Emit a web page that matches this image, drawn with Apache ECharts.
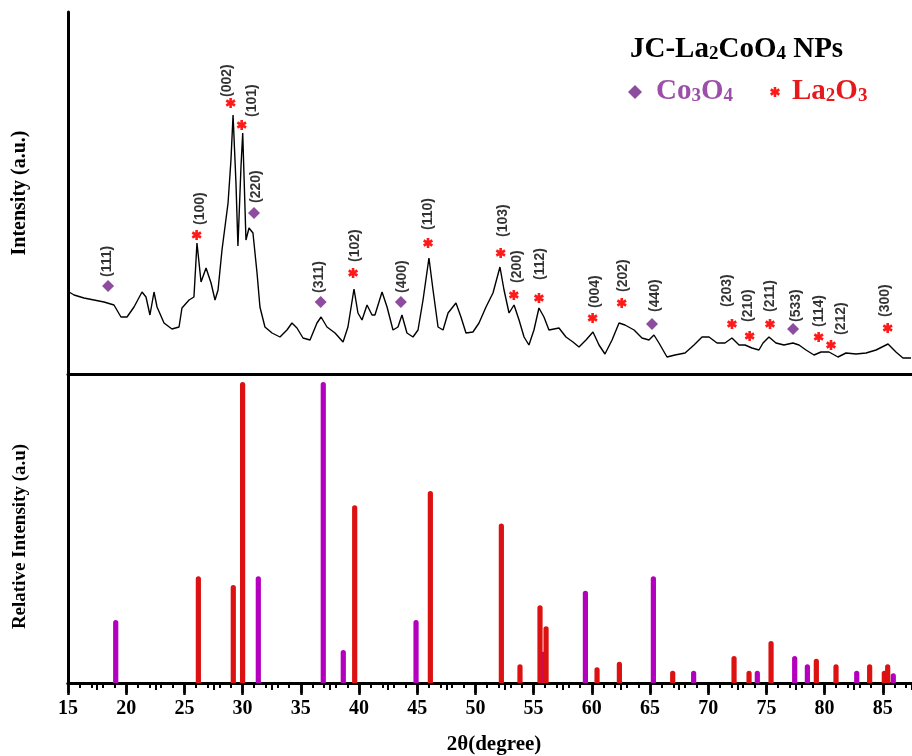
<!DOCTYPE html>
<html>
<head>
<meta charset="utf-8">
<script src="https://cdn.jsdelivr.net/npm/echarts@6/dist/echarts.min.js"></script>
<style>
html,body{margin:0;padding:0;background:#fff;}
#chart{width:912px;height:756px;}
</style>
</head>
<body>
<div id="chart"></div>
<script>
// ---- XRD pattern (top panel) ----
const twoTheta = [15.09,15.52,16.37,17.23,18.09,18.95,19.55,20.07,20.67,21.36,
21.70,22.04,22.39,22.65,23.25,23.93,24.54,24.79,25.40,25.82,
26.08,26.43,26.86,27.29,27.63,27.89,28.23,28.75,29.00,29.18,
29.43,29.60,29.86,30.01,30.29,30.55,30.89,31.24,31.49,31.92,
32.53,33.21,33.81,34.24,34.67,35.19,35.79,36.39,36.74,37.25,
37.94,38.63,39.05,39.57,39.91,40.26,40.69,41.12,41.37,41.98,
42.41,42.92,43.35,43.69,44.12,44.64,45.07,45.50,46.01,46.36,
46.79,47.22,47.65,48.33,48.76,49.19,49.79,50.31,50.91,51.51,
52.11,52.46,52.89,53.32,53.75,54.18,54.60,55.03,55.46,55.89,
56.32,57.18,57.78,58.38,58.90,59.50,60.10,60.62,61.13,61.74,
62.34,62.85,63.63,64.31,64.91,65.34,65.77,66.46,67.15,68.01,
68.78,69.47,70.07,70.76,71.44,72.04,72.65,73.16,73.76,74.36,
74.71,75.22,75.82,76.51,77.28,77.80,78.40,79.09,79.69,80.38,
81.15,81.84,82.70,83.56,84.42,85.45,86.13,86.73,87.42];
const intensity = [82,79,76,74,72,69,57,57,67,82,
77,59,82,67,51,45,47,66,74,77,
131,92,106,91,74,84,124,171,214,259,
191,128,207,241,134,146,141,101,67,47,
41,37,44,51,46,36,34,51,57,47,
41,32,47,85,61,54,69,59,59,82,
67,44,47,59,41,37,44,74,116,84,
47,44,61,71,57,41,42,51,67,81,
107,84,61,69,54,37,29,44,66,57,
44,46,37,32,27,34,42,29,20,34,
51,49,44,36,34,39,31,17,19,21,
29,37,37,31,31,36,29,29,26,24,
31,37,31,29,31,29,24,19,22,22,
17,21,20,21,24,30,22,16,16];

// ---- phase markers in the top panel ----
const laMarkX = [26.05,28.97,29.92,39.49,45.93,52.17,53.30,55.46,60.07,62.57,72.04,73.56,75.31,79.49,80.55,85.42];
const laMarkY = [139,271,249,101,131,121,79,76,56,71,50,38,50,37,29,46];
const coMarkX = [18.44,30.98,36.71,43.60,65.17,77.29];
const coMarkY = [88,161,72,72,50,45];

// ---- (hkl) labels ----
const hklLabels = ['(111)','(100)','(002)','(101)','(220)','(311)','(102)','(400)','(110)','(103)','(200)','(112)','(004)','(202)','(440)','(203)','(210)','(211)','(533)','(114)','(212)','(300)'];
const hklX = [18.35,26.34,28.66,30.78,31.15,36.56,39.66,43.67,45.93,52.37,53.57,55.55,60.27,62.68,65.43,71.62,73.42,75.31,77.54,79.52,81.41,85.19];
const hklY = [97,149,277,257,171,81,112,81,144,137,91,94,66,82,62,67,52,62,52,47,39,57];

// ---- reference sticks (bottom panel) ----
const laStickX = [26.2,29.2,30.0,39.63,46.13,52.23,53.83,55.55,56.07,60.45,62.37,66.95,72.22,73.51,75.4,79.29,80.98,83.87,85.13,85.42];
const laStickH = [35.5,32.6,100,59.1,63.8,53,6.2,25.8,18.9,5.2,7.1,4.1,9.0,4.1,14.0,8.1,6.2,6.2,4.1,6.2];
const coStickX = [19.1,31.35,36.93,38.65,44.9,55.8,59.45,65.29,68.75,74.22,77.43,78.52,82.76,85.9];
const coStickH = [20.9,35.5,100,11,20.9,10.4,30.7,35.5,4.1,4.1,9.0,6.2,4.1,3.2];

const RED = '#ff1a1a';
const PURPLE = '#8e4c9e';
const STICK_RED = '#dc1212';
const STICK_MAG = '#b400be';
const AST = 'M-1.3,-5L1.3,-5L1.3,5L-1.3,5Z M3.68,-3.63L4.98,-1.37L-3.68,3.63L-4.98,1.37Z M4.98,1.37L3.68,3.63L-4.98,-1.37L-3.68,-3.63Z';
const AST_POLYS = [
  [[-1.3,-5],[1.3,-5],[1.3,5],[-1.3,5]],
  [[3.68,-3.63],[4.98,-1.37],[-3.68,3.63],[-4.98,1.37]],
  [[4.98,1.37],[3.68,3.63],[-4.98,-1.37],[-3.68,-3.63]]
];
const SERIF = '"Liberation Serif","Times New Roman",serif';

const chart = echarts.init(document.getElementById('chart'), null, {renderer:'canvas'});

function stickSeries(xs, hs, color) {
  return {
    type:'custom', xAxisIndex:2, yAxisIndex:1, silent:true,
    data: xs.map((x,i)=>[x,hs[i]]),
    renderItem: function(params, api){
      const p0 = api.coord([api.value(0), 0]);
      const p1 = api.coord([api.value(0), api.value(1)]);
      return {type:'rect', shape:{x:p1[0]-2.6, y:p1[1], width:5.2, height:p0[1]-p1[1], r:[2.6,2.6,0,0]}, style:{fill:color}};
    }
  };
}

const axisLineStyle = {lineStyle:{color:'#000', width:3}};
function richTitle(color){
  return {
    m:{fontFamily:SERIF, fontWeight:'bold', fontSize:29, lineHeight:33, verticalAlign:'bottom', fill:color},
    s:{fontFamily:SERIF, fontWeight:'bold', fontSize:19, lineHeight:14, verticalAlign:'bottom', fill:color}
  };
}

chart.setOption({
  animation:false,
  backgroundColor:'#fff',
  grid:[
    {left:68, top:12, width:873, height:362, outerBoundsMode:'none', containLabel:false},
    {left:68, top:374, width:873, height:309, outerBoundsMode:'none', containLabel:false}
  ],
  xAxis:[
    {gridIndex:0, type:'value', min:15, max:90, position:'top', axisLine:axisLineStyle,
     axisTick:{show:false}, axisLabel:{show:false}, splitLine:{show:false}},
    {gridIndex:1, type:'value', min:15, max:90, interval:5, position:'top', axisLine:axisLineStyle,
     axisTick:{show:true, inside:true, length:12, lineStyle:{color:'#000', width:2.5}},
     minorTick:{show:true, splitNumber:2, length:7, lineStyle:{color:'#000', width:2}},
     axisLabel:{show:false}, splitLine:{show:false}},
    {gridIndex:1, type:'value', min:15, max:90, interval:5, position:'bottom', axisLine:axisLineStyle,
     axisTick:{show:true, inside:false, length:10, lineStyle:{color:'#000', width:2.5}},
     minorTick:{show:true, splitNumber:5, length:5, lineStyle:{color:'#000', width:2}},
     axisLabel:{show:true, margin:16, color:'#000', fontFamily:SERIF, fontWeight:'bold', fontSize:20},
     splitLine:{show:false}}
  ],
  yAxis:[
    {gridIndex:0, type:'value', min:0, max:362, axisLine:{show:true, lineStyle:{color:'#000', width:3}},
     axisTick:{show:false}, axisLabel:{show:false}, splitLine:{show:false},
     name:'Intensity (a.u.)', nameLocation:'middle', nameRotate:90, nameGap:38,
     nameTextStyle:{color:'#000', fontFamily:SERIF, fontWeight:'bold', fontSize:20}},
    {gridIndex:1, type:'value', min:0, max:102.7, axisLine:{show:true, lineStyle:{color:'#000', width:3}},
     axisTick:{show:false}, axisLabel:{show:false}, splitLine:{show:false},
     name:'Relative Intensity (a.u)', nameLocation:'middle', nameRotate:90, nameGap:38,
     nameTextStyle:{color:'#000', fontFamily:SERIF, fontWeight:'bold', fontSize:19, padding:[0,16,0,0]}}
  ],
  series:[
    {type:'line', xAxisIndex:0, yAxisIndex:0, data: twoTheta.map((x,i)=>[x,intensity[i]]),
     showSymbol:false, symbol:'none', lineStyle:{color:'#000', width:1.4}, silent:true},
    {type:'scatter', xAxisIndex:0, yAxisIndex:0, data: laMarkX.map((x,i)=>[x,laMarkY[i]]),
     symbol:'path://'+AST, symbolSize:10, itemStyle:{color:RED, opacity:1}, silent:true},
    {type:'scatter', xAxisIndex:0, yAxisIndex:0, data: coMarkX.map((x,i)=>[x,coMarkY[i]]),
     symbol:'diamond', symbolSize:12, itemStyle:{color:PURPLE, opacity:1}, silent:true},
    {type:'scatter', xAxisIndex:0, yAxisIndex:0, data: hklX.map((x,i)=>[x,hklY[i],hklLabels[i]]),
     symbolSize:1, itemStyle:{color:'rgba(0,0,0,0)'}, silent:true,
     label:{show:true, position:'right', distance:0, rotate:90, align:'left', verticalAlign:'middle',
       formatter:p=>p.data[2], color:'#000', fontFamily:'"Liberation Sans",Arial,sans-serif', fontWeight:'bold', fontSize:14}},
    stickSeries(coStickX, coStickH, STICK_MAG),
    stickSeries(laStickX, laStickH, STICK_RED)
  ],
  graphic:[
    {type:'text', x:630, y:31, style:{
      text:'{m|JC-La}{s|2}{m|CoO}{s|4}{m| NPs}', textVerticalAlign:'top', rich:richTitle('#000')}},
    {type:'polygon', shape:{points:[[635,85],[642,92],[635,99],[628,92]]}, style:{fill:PURPLE}},
    {type:'text', x:656, y:73, style:{
      text:'{m|Co}{s|3}{m|O}{s|4}', textVerticalAlign:'top', rich:richTitle('#9b4fa8')}},
    {type:'group', x:775, y:92, children: AST_POLYS.map(pts=>({type:'polygon', shape:{points:pts}, style:{fill:RED}}))},
    {type:'text', x:792, y:73, style:{
      text:'{m|La}{s|2}{m|O}{s|3}', textVerticalAlign:'top', rich:richTitle('#e8191c')}},
    {type:'text', x:494, y:745, style:{text:'2θ(degree)', fontFamily:SERIF, fontWeight:'bold', fontSize:21,
      textAlign:'center', textVerticalAlign:'middle', fill:'#000'}}
  ]
});
</script>
</body>
</html>
